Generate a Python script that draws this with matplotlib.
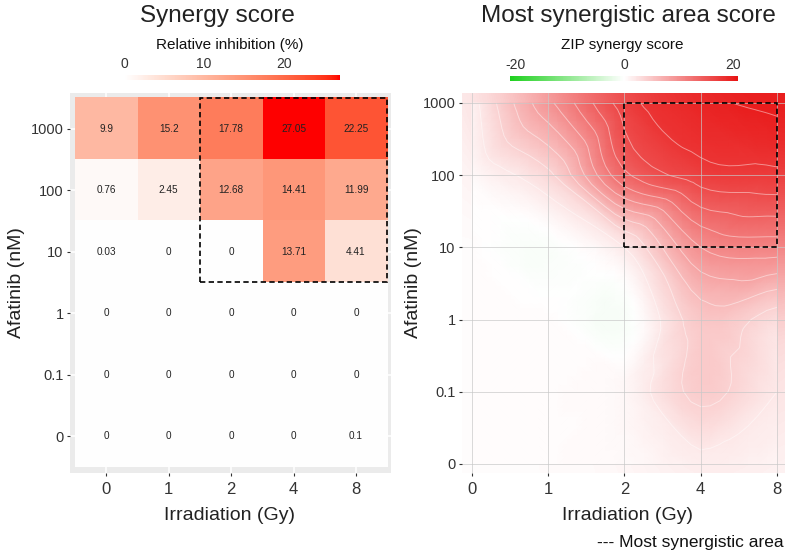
import matplotlib
matplotlib.use("Agg")
import matplotlib.pyplot as plt
import matplotlib.tri as mtri
import numpy as np
from matplotlib.colors import ListedColormap, LinearSegmentedColormap, Normalize
from matplotlib.patches import Rectangle
from matplotlib.cm import ScalarMappable

plt.rcParams['font.family'] = ['Liberation Sans', 'DejaVu Sans']
plt.rcParams['axes.unicode_minus'] = False

irradiation = ['0', '1', '2', '4', '8']
afatinib = ['0', '0.1', '1', '10', '100', '1000']

# relative inhibition (%), rows from afatinib 0 up to 1000 nM
inhibition = [
    [0, 0, 0, 0, 0.1],
    [0, 0, 0, 0, 0],
    [0, 0, 0, 0, 0],
    [0.03, 0, 0, 13.71, 4.41],
    [0.76, 2.45, 12.68, 14.41, 11.99],
    [9.9, 15.2, 17.78, 27.05, 22.25],
]

# ZIP synergy scores on the same dose grid
zip_scores = [
    [0.3, 0.3, 0.5, 1.5, 1.0],
    [0.3, 0.3, 0.8, 4.5, 2.0],
    [0.3, 0.2, -0.6, 5.0, 3.0],
    [0.2, -0.4, 2.0, 10.0, 11.0],
    [0.5, 3.5, 13.5, 17.0, 17.5],
    [1.2, 9.5, 17.0, 19.5, 20.5],
]

# most synergistic window (column / row index ranges)
best_cols = (2, 4)
best_rows = (3, 5)


def to_lab(rgb):
    rgb = np.asarray(rgb, dtype=float)
    c = np.where(rgb <= 0.04045, rgb / 12.92, ((rgb + 0.055) / 1.055) ** 2.4)
    m = np.array([[0.4124, 0.3576, 0.1805],
                  [0.2126, 0.7152, 0.0722],
                  [0.0193, 0.1192, 0.9505]])
    xyz = (m @ c) / np.array([0.95047, 1.0, 1.08883])
    f = np.where(xyz > 0.008856, np.cbrt(xyz), 7.787 * xyz + 16 / 116)
    return np.array([116 * f[1] - 16, 500 * (f[0] - f[1]), 200 * (f[1] - f[2])])


def from_lab(lab):
    L, a, b = lab
    fy = (L + 16) / 116
    f = np.array([fy + a / 500, fy, fy - b / 200])
    xyz = np.where(f ** 3 > 0.008856, f ** 3, (f - 16 / 116) / 7.787)
    xyz = xyz * np.array([0.95047, 1.0, 1.08883])
    minv = np.array([[3.2406, -1.5372, -0.4986],
                     [-0.9689, 1.8758, 0.0415],
                     [0.0557, -0.2040, 1.0570]])
    c = np.clip(minv @ xyz, 0, 1)
    rgb = np.where(c <= 0.0031308, 12.92 * c, 1.055 * c ** (1 / 2.4) - 0.055)
    return np.clip(rgb, 0, 1)


def lab_cmap(colors, n=256):
    labs = [to_lab(matplotlib.colors.to_rgb(c)) for c in colors]
    out = []
    for t in np.linspace(0, 1, n):
        pos = t * (len(labs) - 1)
        k = min(int(pos), len(labs) - 2)
        u = pos - k
        out.append(from_lab(labs[k] * (1 - u) + labs[k + 1] * u))
    return ListedColormap(out)


inh_cmap = lab_cmap(['white', '#FF0000'])
zip_cmap = LinearSegmentedColormap.from_list('zip', ['#1ED01E', 'white', '#E81414'])
inh_norm = Normalize(0, 27.05)
zip_norm = Normalize(-21, 21)

W, H = 785, 557
fig = plt.figure(figsize=(W / 100, H / 100), dpi=100)


def fx(px):
    return px / W


def fy(py):
    return 1 - py / H


tick_col = '#333333'

# ---------------- left: relative inhibition tiles ----------------
ax1 = fig.add_axes([fx(70), fy(473), 321 / W, 380 / H])
ax1.set_facecolor('#EBEBEB')
ax1.imshow(np.array(inhibition), origin='lower', cmap=inh_cmap, norm=inh_norm,
           extent=(-0.5, 4.5, -0.5, 5.5), aspect='auto', interpolation='nearest',
           zorder=1)
ax1.set_xlim(-0.58, 4.56)
ax1.set_ylim(-0.598, 5.58)
ax1.set_xticks(range(len(irradiation)))
ax1.set_xticklabels(irradiation)
ax1.set_yticks(range(len(afatinib)))
ax1.set_yticklabels(afatinib)
ax1.set_axisbelow(True)
ax1.grid(color='white', linewidth=1.1)
for s in ax1.spines.values():
    s.set_visible(False)
ax1.tick_params(axis='both', length=2.5, width=0.8, color=tick_col,
                labelcolor=tick_col, pad=2)
ax1.tick_params(axis='y', labelsize=10.5)
ax1.tick_params(axis='x', labelsize=12, pad=4)

for i, row in enumerate(inhibition):
    for j, v in enumerate(row):
        ax1.text(j, i, f"{v:g}", ha='center', va='center', fontsize=7.2,
                 color='#222222', zorder=3)

ax1.add_patch(Rectangle((best_cols[0] - 0.5, best_rows[0] - 0.5),
                        best_cols[1] - best_cols[0] + 1,
                        best_rows[1] - best_rows[0] + 1,
                        fill=False, ec='black', lw=1.2, ls=(0, (3.2, 2)), zorder=4))

# ---------------- right: ZIP synergy landscape ----------------
ax2 = fig.add_axes([fx(462), fy(473), 323 / W, 380 / H])
z = np.array(zip_scores)
# soft fill for the thin margin around the dose grid
ax2.imshow(z, origin='lower', cmap=zip_cmap, norm=zip_norm,
           extent=(-0.5, 4.5, -0.5, 5.5), aspect='auto', interpolation='bicubic',
           interpolation_stage='data', zorder=0)
gx, gy = np.meshgrid(np.arange(len(irradiation)), np.arange(len(afatinib)))
tri = mtri.Triangulation(gx.ravel().astype(float), gy.ravel().astype(float))
interp = mtri.CubicTriInterpolator(tri, z.ravel(), kind='geom')
tri_f, z_f = mtri.UniformTriRefiner(tri).refine_field(z.ravel(), triinterpolator=interp,
                                                      subdiv=3)
ax2.tripcolor(tri_f, z_f, shading='gouraud', cmap=zip_cmap, norm=zip_norm, zorder=0.5)
ax2.tricontour(tri_f, z_f, levels=np.arange(2, 21, 2), colors='white',
               linewidths=0.7, alpha=0.45, zorder=1)
ax2.set_xlim(-0.131, 4.105)
ax2.set_ylim(-0.125, 5.138)
ax2.set_xticks(range(len(irradiation)))
ax2.set_xticklabels(irradiation)
ax2.set_yticks(range(len(afatinib)))
ax2.set_yticklabels(afatinib)
ax2.grid(color='#C8C8C8', linewidth=0.6, alpha=0.8)
ax2.set_axisbelow(False)
for s in ax2.spines.values():
    s.set_visible(False)
ax2.tick_params(axis='both', length=2.5, width=0.8, color=tick_col,
                labelcolor=tick_col, pad=2)
ax2.tick_params(axis='y', labelsize=10.5)
ax2.tick_params(axis='x', labelsize=12, pad=4)
ax2.add_patch(Rectangle((best_cols[0], best_rows[0]),
                        best_cols[1] - best_cols[0],
                        best_rows[1] - best_rows[0],
                        fill=False, ec='black', lw=1.2, ls=(0, (3.2, 2)), zorder=4))

# ---------------- colour bars ----------------
cax1 = fig.add_axes([fx(124), fy(80), 216 / W, 4.5 / H])
cb1 = fig.colorbar(ScalarMappable(norm=inh_norm, cmap=inh_cmap), cax=cax1,
                   orientation='horizontal', ticks=[0, 10, 20])
cb1.outline.set_visible(False)
cax1.xaxis.set_ticks_position('top')
cax1.tick_params(length=0, labelsize=10, pad=3, labelcolor=tick_col)

cax2 = fig.add_axes([fx(510), fy(81), 228 / W, 4.5 / H])
cb2 = fig.colorbar(ScalarMappable(norm=zip_norm, cmap=zip_cmap), cax=cax2,
                   orientation='horizontal', ticks=[-20, 0, 20])
cb2.outline.set_visible(False)
cax2.xaxis.set_ticks_position('top')
cax2.tick_params(length=0, labelsize=10, pad=3, labelcolor=tick_col)

# ---------------- titles and labels ----------------
fig.text(fx(217), fy(16), 'Synergy score', ha='center', va='center',
         fontsize=17.5, color='#222222')
fig.text(fx(230), fy(45), 'Relative inhibition (%)', ha='center', va='center',
         fontsize=11, color='#111111')
fig.text(fx(628), fy(16), 'Most synergistic area score', ha='center', va='center',
         fontsize=17.5, color='#222222')
fig.text(fx(622), fy(45), 'ZIP synergy score', ha='center', va='center',
         fontsize=11, color='#111111')

fig.text(fx(230), fy(516), 'Irradiation (Gy)', ha='center', va='center',
         fontsize=14, color='#222222')
fig.text(fx(628), fy(516), 'Irradiation (Gy)', ha='center', va='center',
         fontsize=14, color='#222222')
fig.text(fx(17), fy(283), 'Afatinib (nM)', ha='center', va='center',
         rotation=90, fontsize=14, color='#222222')
fig.text(fx(414), fy(283), 'Afatinib (nM)', ha='center', va='center',
         rotation=90, fontsize=14, color='#222222')
fig.text(fx(784), fy(543), '--- Most synergistic area', ha='right', va='center',
         fontsize=12.5, color='#111111')

fig.savefig('out.png', dpi=100)
